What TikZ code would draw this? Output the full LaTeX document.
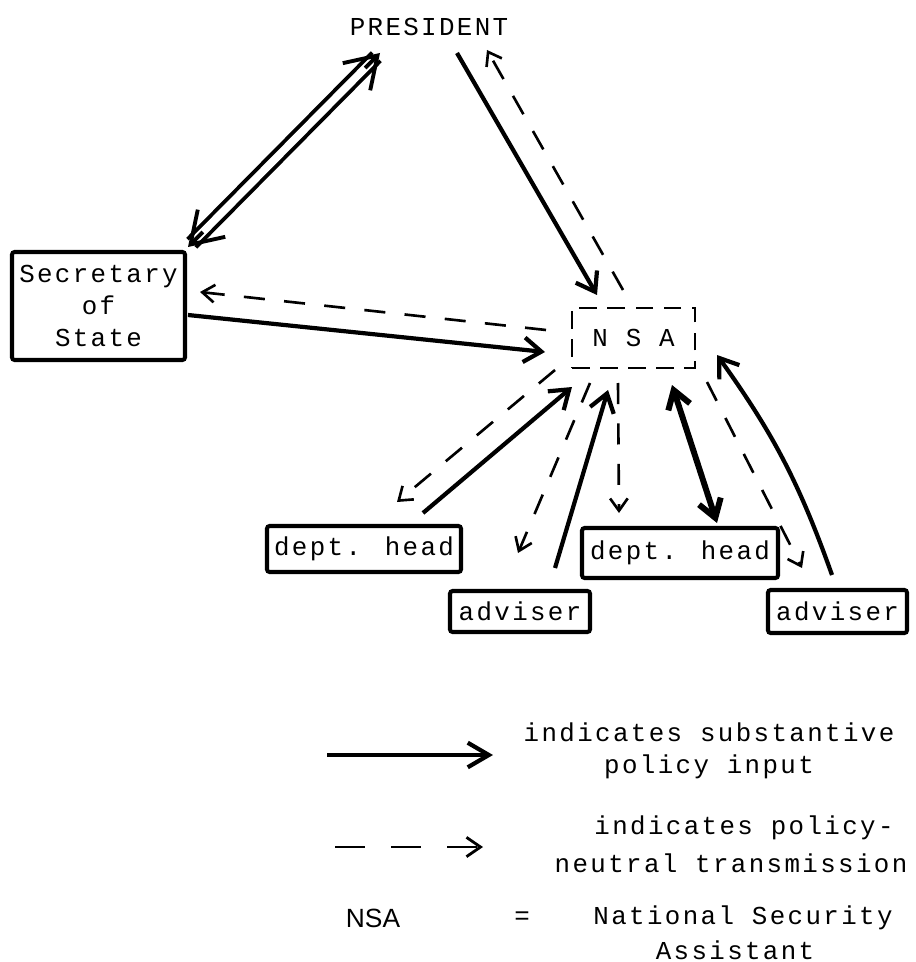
\documentclass[tikz,border=0pt]{standalone}
\usepackage{fontspec}
\setmainfont{Liberation Mono}
\newfontfamily\dm[LetterSpace=9.2]{Liberation Mono}
\newfontfamily\plainsans{Liberation Sans}
\usetikzlibrary{arrows.meta,calc}
\newdimen\pxu \pxu=0.02cm
\begin{document}
\begin{tikzpicture}[x=0.02cm,y=-0.02cm,
  every node/.style={font=\dm\fontsize{14.7pt}{18pt}\selectfont, inner sep=0pt},
  box/.style={draw, line width=2.3pt, rounded corners=1.5pt, align=center},
  nsabox/.style={draw, line width=1.4pt, dash pattern=on 10pt off 6pt},
  sarr/.style={line width=2.4pt, -{Straight Barb[length=10pt,width=14pt]}},
  darr/.style={line width=1.5pt, dash pattern=on 12pt off 11pt, -{Straight Barb[length=7pt,width=10pt]}},
  tarr/.style={line width=3.4pt, {Straight Barb[length=10pt,width=13pt]}-{Straight Barb[length=10pt,width=13pt]}},
  dblline/.style={line width=2.2pt, double, double distance=4.4pt},
  bigtip/.style={line width=2.2pt, -{Straight Barb[length=17pt,width=22pt]}}
]
\useasboundingbox (0,0) rectangle (915,962);

% nodes
\node (pres) at (429,27) {PRESIDENT};
\node[box, minimum width=173\pxu, minimum height=108\pxu] (sec) at (98.5,306) {Secretary\\of\\State};
\node[nsabox, minimum width=123\pxu, minimum height=60\pxu] (nsa) at (633.5,338) {N S A};
\node[box, minimum width=194\pxu, minimum height=46\pxu] (dh1) at (364,549) {dept. head};
\node[box, minimum width=140\pxu, minimum height=41\pxu] (adv1) at (520,611.5) {adviser};
\node[box, minimum width=196\pxu, minimum height=50\pxu] (dh2) at (680,553) {dept. head};
\node[box, minimum width=139\pxu, minimum height=43\pxu] (adv2) at (837.5,611.5) {adviser};

% President <-> Secretary (double line)
\coordinate (d1) at ($(sec)+(89.5,-59)$);
\coordinate (d2) at ($(pres)+(-49,26)$);
\draw[dblline, shorten <=3pt, shorten >=3pt] (d1) -- (d2);
\draw[bigtip] ($(d1)!12pt!(d2)$) -- (d1);
\draw[bigtip] ($(d2)!12pt!(d1)$) -- (d2);

% President / NSA
\draw[sarr] ($(pres)+(28,26)$) -- ($(nsa)+(-36.5,-43)$);
\draw[darr] ($(nsa)+(-10.5,-48)$) -- ($(pres)+(58,23)$);

% Secretary / NSA
\draw[darr] ($(nsa)+(-87.5,-8)$) -- ($(sec)+(101.5,-14)$);
\draw[sarr] ($(sec)+(89.5,9)$) -- ($(nsa)+(-88.5,14)$);

% lower
\draw[darr] ($(nsa)+(-78.5,32)$) -- ($(dh1)+(33,-47)$);
\draw[sarr] ($(dh1)+(59,-36)$) -- ($(nsa)+(-61.5,49)$);
\draw[darr] ($(nsa)+(-43.5,45)$) -- ($(adv1)+(-2,-58.5)$);
\draw[sarr] ($(adv1)+(35,-43.5)$) -- ($(nsa)+(-25.5,52)$);
\draw[darr] ($(nsa)+(-15.5,45)$) -- ($(dh2)+(-61,-40)$);
\draw[tarr] ($(nsa)+(38.5,47)$) -- ($(dh2)+(37,-30)$);
\draw[darr] ($(nsa)+(73.5,44)$) -- ($(adv2)+(-35.5,-43.5)$);
\draw[sarr] ($(adv2)+(-5.5,-36.5)$) to[bend right=8] ($(nsa)+(83.5,17)$);

% legend
\coordinate (l1a) at (327,755);
\coordinate (l1b) at (493,755);
\draw[line width=2.4pt, -{Straight Barb[length=12pt,width=14pt]}] (l1a) -- (l1b);
\node[align=center] (t1) at (709,751) {indicates substantive\\policy input};
\coordinate (l2a) at (335,847);
\coordinate (l2b) at (483,847);
\draw[line width=1.6pt, dash pattern=on 17pt off 15pt, -{Straight Barb[length=8pt,width=11pt]}] (l2a) -- (l2b);
\node (t2) at (744,828) {indicates policy-};
\node (t3) at (731,863) {neutral transmission};
\node[font=\plainsans\fontsize{15pt}{18pt}\selectfont] (t4) at (373,918) {NSA};
\node (t5) at (522,918) {=};
\node (t6) at (743,918) {National Security};
\node (t7) at (735,950) {Assistant};
\end{tikzpicture}
\end{document}
